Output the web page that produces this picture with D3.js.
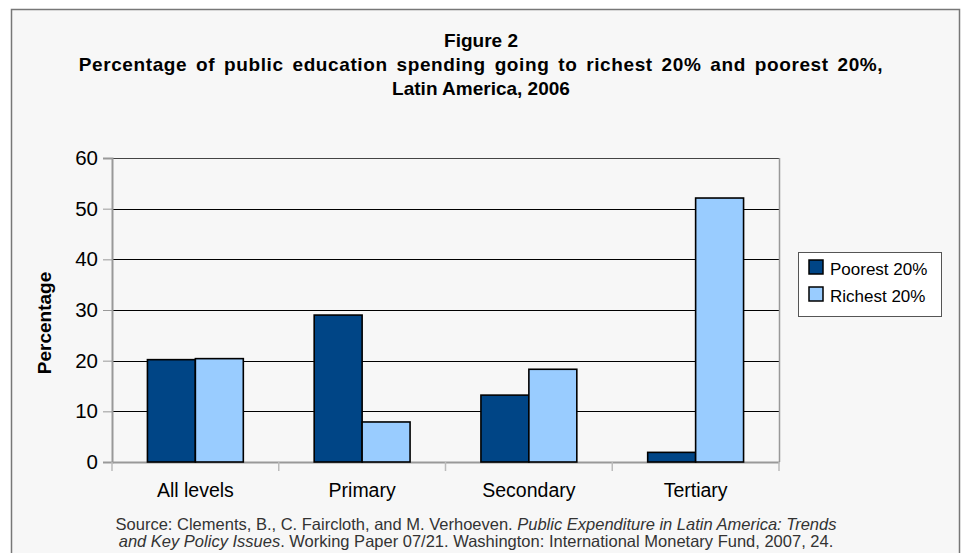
<!DOCTYPE html>
<html>
<head>
<meta charset="utf-8">
<script src="https://cdn.jsdelivr.net/npm/d3@7"></script>
<style>
  body { margin: 0; background: #fff; }
  svg text { font-family: "Liberation Sans", Arial, sans-serif; }
</style>
</head>
<body>
<div id="chart"></div>
<script>
var categories = ["All levels", "Primary", "Secondary", "Tertiary"];
var seriesNames = ["Poorest 20%", "Richest 20%"];
var poorest = [20.2, 29.0, 13.2, 1.9];
var richest = [20.4, 7.9, 18.3, 52.1];
var yTicks = [0, 10, 20, 30, 40, 50, 60];
var titleLines = ["Figure 2",
  "Percentage of public education spending going to richest 20% and poorest 20%,",
  "Latin America, 2006"];

var colors = ["#004586", "#99ccff"];

var W = 962, H = 553;
var margin = { top: 158, left: 112, right: 183, bottom: 91 };
var width = W - margin.left - margin.right,
    height = H - margin.top - margin.bottom;

var svg = d3.select("#chart").append("svg")
    .attr("width", W)
    .attr("height", H);

// page frame
svg.append("rect")
    .attr("x", 11.5).attr("y", 9.5)
    .attr("width", 948).attr("height", 560)
    .style("fill", "#f7f7f7")
    .style("stroke", "#777")
    .style("stroke-width", 1.5);

// title
svg.selectAll(".title")
    .data(titleLines)
    .enter().append("text")
    .attr("class", "title")
    .attr("x", 481)
    .attr("y", function(d, i) { return 47 + i * 24; })
    .attr("text-anchor", "middle")
    .style("word-spacing", function(d, i) { return i == 1 ? "3px" : null; })
    .style("letter-spacing", function(d, i) { return i == 1 ? "0.6px" : null; })
    .style("font-size", "19px")
    .style("font-weight", "bold")
    .text(function(d) { return d; });

var g = svg.append("g")
    .attr("transform", "translate(" + margin.left + "," + margin.top + ")");

var x0 = d3.scaleBand().domain(categories).range([0, width]).paddingInner(0.425).paddingOuter(0.2125);
var x1 = d3.scaleBand().domain(seriesNames).range([0, x0.bandwidth()]);
var y = d3.scaleLinear().domain([0, 60]).range([height, 0]);

// gridlines
g.selectAll(".grid")
    .data(yTicks.slice(1))
    .enter().append("line")
    .attr("x1", 0).attr("x2", width)
    .attr("y1", function(d) { return Math.round(y(d)) + 0.5; })
    .attr("y2", function(d) { return Math.round(y(d)) + 0.5; })
    .style("stroke", function(d) { return d == 60 ? "#444" : "#000"; })
    .style("stroke-width", 1);

// right border of plot
g.append("line")
    .attr("x1", width + 0.5).attr("x2", width + 0.5)
    .attr("y1", 0).attr("y2", height)
    .style("stroke", "#999").style("stroke-width", 1.5);

// y axis
var yAxis = g.append("g")
    .call(d3.axisLeft(y).tickValues(yTicks).tickSize(9).tickPadding(5));
yAxis.select(".domain").style("stroke", "#999").style("stroke-width", 2);
yAxis.selectAll(".tick line").style("stroke", "#999");
yAxis.selectAll(".tick text")
    .style("font-size", "20.5px")
    .style("fill", "#000");

// x axis
var xAxis = g.append("g")
    .attr("transform", "translate(0," + height + ")")
    .call(d3.axisBottom(x0).tickSize(0).tickPadding(21));
xAxis.select(".domain").style("stroke", "#999").style("stroke-width", 2);
xAxis.selectAll(".tick text")
    .style("font-size", "19.5px")
    .style("fill", "#000");

// category dividers below axis
g.selectAll(".ctick")
    .data(d3.range(categories.length + 1))
    .enter().append("line")
    .attr("x1", function(d) { return d * width / categories.length; })
    .attr("x2", function(d) { return d * width / categories.length; })
    .attr("y1", height).attr("y2", height + 9)
    .style("stroke", "#bbb").style("stroke-width", 1.5);

// bars
var rows = categories.map(function(c, i) {
  return { cat: c, values: [poorest[i], richest[i]] };
});

var groups = g.selectAll(".group")
    .data(rows)
    .enter().append("g")
    .attr("transform", function(d) { return "translate(" + x0(d.cat) + ",0)"; });

groups.selectAll("rect")
    .data(function(d) { return d.values.map(function(v, j) { return { name: seriesNames[j], value: v, idx: j }; }); })
    .enter().append("rect")
    .attr("x", function(d) { return x1(d.name); })
    .attr("y", function(d) { return y(d.value); })
    .attr("width", x1.bandwidth())
    .attr("height", function(d) { return height - y(d.value); })
    .style("fill", function(d) { return colors[d.idx]; })
    .style("stroke", "#000")
    .style("stroke-width", 1.6);

// y label
svg.append("text")
    .attr("transform", "translate(51,323) rotate(-90)")
    .attr("text-anchor", "middle")
    .style("font-size", "19px")
    .style("font-weight", "bold")
    .text("Percentage");

// legend
var legend = svg.append("g").attr("transform", "translate(798,252)");
legend.append("rect")
    .attr("x", 0.5).attr("y", 0.5)
    .attr("width", 143).attr("height", 64)
    .style("fill", "#fff")
    .style("stroke", "#555");
var items = legend.selectAll(".item")
    .data(seriesNames)
    .enter().append("g")
    .attr("transform", function(d, i) { return "translate(11," + (8 + i * 27) + ")"; });
items.append("rect")
    .attr("width", 14).attr("height", 14)
    .style("fill", function(d, i) { return colors[i]; })
    .style("stroke", "#000")
    .style("stroke-width", 1.5);
items.append("text")
    .attr("x", 21).attr("y", 15)
    .style("font-size", "17px")
    .text(function(d) { return d; });

// source note
var src = svg.append("text")
    .attr("x", 478)
    .attr("text-anchor", "middle")
    .style("font-size", "16.5px")
    .style("fill", "#333");
var l1 = src.append("tspan").attr("x", 476).attr("y", 530);
l1.append("tspan").text("Source: Clements, B., C. Faircloth, and M. Verhoeven. ");
l1.append("tspan").style("font-style", "italic").text("Public Expenditure in Latin America: Trends");
var l2 = src.append("tspan").attr("x", 476).attr("y", 547);
l2.append("tspan").style("font-style", "italic").text("and Key Policy Issues");
l2.append("tspan").text(". Working Paper 07/21. Washington: International Monetary Fund, 2007, 24.");
</script>
</body>
</html>
